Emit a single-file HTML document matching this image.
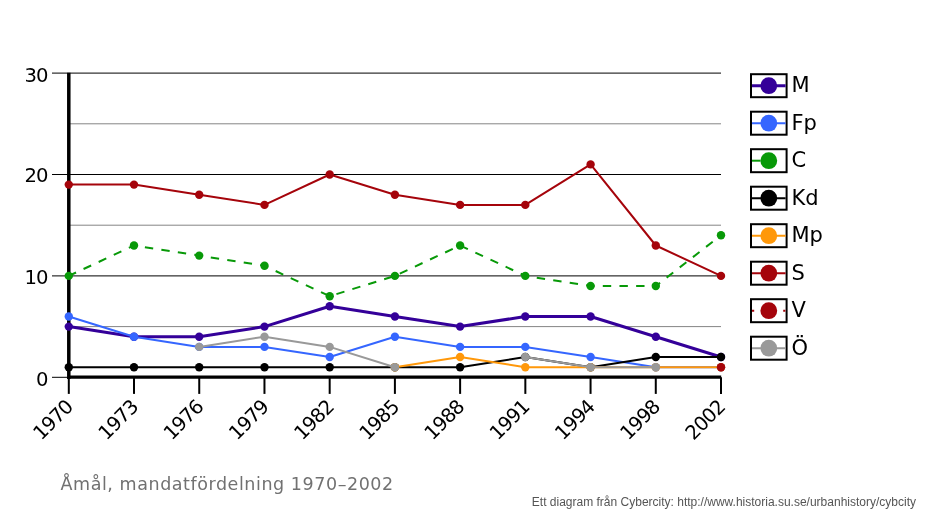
<!DOCTYPE html>
<html lang="sv"><head><meta charset="utf-8"><title>Åmål, mandatfördelning 1970–2002</title>
<style>html,body{margin:0;padding:0;background:#fff}body{width:934px;height:521px;overflow:hidden}svg{display:block}.ax{font-family:"DejaVu Sans", "Liberation Sans", sans-serif;font-size:19.6px;letter-spacing:-0.9px;fill:#000}.lg{font-family:"DejaVu Sans", "Liberation Sans", sans-serif;font-size:21px;fill:#000}.ti{font-family:"DejaVu Sans", "Liberation Sans", sans-serif;font-size:17.5px;letter-spacing:0.56px;fill:#717171}.ft{font-family:"Liberation Sans",Arial,sans-serif;font-size:12px;fill:#555}</style></head><body>
<svg width="934" height="521" viewBox="0 0 934 521">
<rect width="934" height="521" fill="#fff"/>
<line x1="68.8" y1="326.60" x2="721.0" y2="326.60" stroke="#858585" stroke-width="1"/>
<line x1="68.8" y1="225.20" x2="721.0" y2="225.20" stroke="#858585" stroke-width="1"/>
<line x1="68.8" y1="123.80" x2="721.0" y2="123.80" stroke="#858585" stroke-width="1"/>
<line x1="52.0" y1="275.90" x2="721.0" y2="275.90" stroke="#000" stroke-width="1"/>
<line x1="52.0" y1="174.50" x2="721.0" y2="174.50" stroke="#000" stroke-width="1"/>
<line x1="52.0" y1="73.10" x2="721.0" y2="73.10" stroke="#000" stroke-width="1"/>
<line x1="52" y1="377.30" x2="68.8" y2="377.30" stroke="#000" stroke-width="1"/>
<text class="ax" x="47.6" y="386.0" text-anchor="end">0</text>
<text class="ax" x="47.6" y="284.0" text-anchor="end">10</text>
<text class="ax" x="47.6" y="182.0" text-anchor="end">20</text>
<text class="ax" x="47.6" y="82.0" text-anchor="end">30</text>
<line x1="68.80" y1="72.7" x2="68.80" y2="379.0" stroke="#000" stroke-width="3.5"/>
<line x1="68.80" y1="377.10" x2="721.20" y2="377.10" stroke="#000" stroke-width="3.4"/>
<line x1="68.80" y1="377.3" x2="68.80" y2="393.9" stroke="#000" stroke-width="2"/>
<text class="ax" text-anchor="end" transform="translate(74.0,408.2) rotate(-45)">1970</text>
<line x1="134.02" y1="377.3" x2="134.02" y2="393.9" stroke="#000" stroke-width="2"/>
<text class="ax" text-anchor="end" transform="translate(139.2,408.2) rotate(-45)">1973</text>
<line x1="199.24" y1="377.3" x2="199.24" y2="393.9" stroke="#000" stroke-width="2"/>
<text class="ax" text-anchor="end" transform="translate(204.4,408.2) rotate(-45)">1976</text>
<line x1="264.46" y1="377.3" x2="264.46" y2="393.9" stroke="#000" stroke-width="2"/>
<text class="ax" text-anchor="end" transform="translate(269.7,408.2) rotate(-45)">1979</text>
<line x1="329.68" y1="377.3" x2="329.68" y2="393.9" stroke="#000" stroke-width="2"/>
<text class="ax" text-anchor="end" transform="translate(334.9,408.2) rotate(-45)">1982</text>
<line x1="394.90" y1="377.3" x2="394.90" y2="393.9" stroke="#000" stroke-width="2"/>
<text class="ax" text-anchor="end" transform="translate(400.1,408.2) rotate(-45)">1985</text>
<line x1="460.12" y1="377.3" x2="460.12" y2="393.9" stroke="#000" stroke-width="2"/>
<text class="ax" text-anchor="end" transform="translate(465.3,408.2) rotate(-45)">1988</text>
<line x1="525.34" y1="377.3" x2="525.34" y2="393.9" stroke="#000" stroke-width="2"/>
<text class="ax" text-anchor="end" transform="translate(530.5,408.2) rotate(-45)">1991</text>
<line x1="590.56" y1="377.3" x2="590.56" y2="393.9" stroke="#000" stroke-width="2"/>
<text class="ax" text-anchor="end" transform="translate(595.8,408.2) rotate(-45)">1994</text>
<line x1="655.78" y1="377.3" x2="655.78" y2="393.9" stroke="#000" stroke-width="2"/>
<text class="ax" text-anchor="end" transform="translate(661.0,408.2) rotate(-45)">1998</text>
<line x1="721.00" y1="377.3" x2="721.00" y2="393.9" stroke="#000" stroke-width="2"/>
<text class="ax" text-anchor="end" transform="translate(726.2,408.2) rotate(-45)">2002</text>
<polyline fill="none" stroke="#340099" stroke-width="3" stroke-linejoin="round" points="68.8,326.6 134.0,336.7 199.2,336.7 264.5,326.6 329.7,306.3 394.9,316.5 460.1,326.6 525.3,316.5 590.6,316.5 655.8,336.7 721.0,357.0"/>
<circle cx="68.8" cy="326.6" r="4.2" fill="#340099"/>
<circle cx="134.0" cy="336.7" r="4.2" fill="#340099"/>
<circle cx="199.2" cy="336.7" r="4.2" fill="#340099"/>
<circle cx="264.5" cy="326.6" r="4.2" fill="#340099"/>
<circle cx="329.7" cy="306.3" r="4.2" fill="#340099"/>
<circle cx="394.9" cy="316.5" r="4.2" fill="#340099"/>
<circle cx="460.1" cy="326.6" r="4.2" fill="#340099"/>
<circle cx="525.3" cy="316.5" r="4.2" fill="#340099"/>
<circle cx="590.6" cy="316.5" r="4.2" fill="#340099"/>
<circle cx="655.8" cy="336.7" r="4.2" fill="#340099"/>
<circle cx="721.0" cy="357.0" r="4.2" fill="#340099"/>
<polyline fill="none" stroke="#3566ff" stroke-width="2" stroke-linejoin="round" points="68.8,316.5 134.0,336.7 199.2,346.9 264.5,346.9 329.7,357.0 394.9,336.7 460.1,346.9 525.3,346.9 590.6,357.0 655.8,367.2 721.0,367.2"/>
<circle cx="68.8" cy="316.5" r="4.2" fill="#3566ff"/>
<circle cx="134.0" cy="336.7" r="4.2" fill="#3566ff"/>
<circle cx="199.2" cy="346.9" r="4.2" fill="#3566ff"/>
<circle cx="264.5" cy="346.9" r="4.2" fill="#3566ff"/>
<circle cx="329.7" cy="357.0" r="4.2" fill="#3566ff"/>
<circle cx="394.9" cy="336.7" r="4.2" fill="#3566ff"/>
<circle cx="460.1" cy="346.9" r="4.2" fill="#3566ff"/>
<circle cx="525.3" cy="346.9" r="4.2" fill="#3566ff"/>
<circle cx="590.6" cy="357.0" r="4.2" fill="#3566ff"/>
<circle cx="655.8" cy="367.2" r="4.2" fill="#3566ff"/>
<circle cx="721.0" cy="367.2" r="4.2" fill="#3566ff"/>
<polyline fill="none" stroke="#089908" stroke-width="2" stroke-linejoin="round" stroke-dasharray="8.4 8.27" stroke-dashoffset="0.4" points="68.8,275.9 134.0,245.5 199.2,255.6 264.5,265.8 329.7,296.2 394.9,275.9 460.1,245.5 525.3,275.9 590.6,286.0 655.8,286.0 721.0,235.3"/>
<circle cx="68.8" cy="275.9" r="4.2" fill="#089908"/>
<circle cx="134.0" cy="245.5" r="4.2" fill="#089908"/>
<circle cx="199.2" cy="255.6" r="4.2" fill="#089908"/>
<circle cx="264.5" cy="265.8" r="4.2" fill="#089908"/>
<circle cx="329.7" cy="296.2" r="4.2" fill="#089908"/>
<circle cx="394.9" cy="275.9" r="4.2" fill="#089908"/>
<circle cx="460.1" cy="245.5" r="4.2" fill="#089908"/>
<circle cx="525.3" cy="275.9" r="4.2" fill="#089908"/>
<circle cx="590.6" cy="286.0" r="4.2" fill="#089908"/>
<circle cx="655.8" cy="286.0" r="4.2" fill="#089908"/>
<circle cx="721.0" cy="235.3" r="4.2" fill="#089908"/>
<polyline fill="none" stroke="#000000" stroke-width="2" stroke-linejoin="round" points="68.8,367.2 134.0,367.2 199.2,367.2 264.5,367.2 329.7,367.2 394.9,367.2 460.1,367.2 525.3,357.0 590.6,367.2 655.8,357.0 721.0,357.0"/>
<circle cx="68.8" cy="367.2" r="4.2" fill="#000000"/>
<circle cx="134.0" cy="367.2" r="4.2" fill="#000000"/>
<circle cx="199.2" cy="367.2" r="4.2" fill="#000000"/>
<circle cx="264.5" cy="367.2" r="4.2" fill="#000000"/>
<circle cx="329.7" cy="367.2" r="4.2" fill="#000000"/>
<circle cx="394.9" cy="367.2" r="4.2" fill="#000000"/>
<circle cx="460.1" cy="367.2" r="4.2" fill="#000000"/>
<circle cx="525.3" cy="357.0" r="4.2" fill="#000000"/>
<circle cx="590.6" cy="367.2" r="4.2" fill="#000000"/>
<circle cx="655.8" cy="357.0" r="4.2" fill="#000000"/>
<circle cx="721.0" cy="357.0" r="4.2" fill="#000000"/>
<polyline fill="none" stroke="#ff980a" stroke-width="2" stroke-linejoin="round" points="394.9,367.2 460.1,357.0 525.3,367.2 590.6,367.2 655.8,367.2 721.0,367.2"/>
<circle cx="394.9" cy="367.2" r="4.2" fill="#ff980a"/>
<circle cx="460.1" cy="357.0" r="4.2" fill="#ff980a"/>
<circle cx="525.3" cy="367.2" r="4.2" fill="#ff980a"/>
<circle cx="590.6" cy="367.2" r="4.2" fill="#ff980a"/>
<circle cx="655.8" cy="367.2" r="4.2" fill="#ff980a"/>
<circle cx="721.0" cy="367.2" r="4.2" fill="#ff980a"/>
<polyline fill="none" stroke="#a5040b" stroke-width="2" stroke-linejoin="round" points="68.8,184.6 134.0,184.6 199.2,194.8 264.5,204.9 329.7,174.5 394.9,194.8 460.1,204.9 525.3,204.9 590.6,164.4 655.8,245.5 721.0,275.9"/>
<circle cx="68.8" cy="184.6" r="4.2" fill="#a5040b"/>
<circle cx="134.0" cy="184.6" r="4.2" fill="#a5040b"/>
<circle cx="199.2" cy="194.8" r="4.2" fill="#a5040b"/>
<circle cx="264.5" cy="204.9" r="4.2" fill="#a5040b"/>
<circle cx="329.7" cy="174.5" r="4.2" fill="#a5040b"/>
<circle cx="394.9" cy="194.8" r="4.2" fill="#a5040b"/>
<circle cx="460.1" cy="204.9" r="4.2" fill="#a5040b"/>
<circle cx="525.3" cy="204.9" r="4.2" fill="#a5040b"/>
<circle cx="590.6" cy="164.4" r="4.2" fill="#a5040b"/>
<circle cx="655.8" cy="245.5" r="4.2" fill="#a5040b"/>
<circle cx="721.0" cy="275.9" r="4.2" fill="#a5040b"/>
<circle cx="721.0" cy="367.2" r="4.2" fill="#a5040b"/>
<polyline fill="none" stroke="#999999" stroke-width="2" stroke-linejoin="round" points="199.2,346.9 264.5,336.7 329.7,346.9 394.9,367.2"/>
<polyline fill="none" stroke="#999999" stroke-width="2" stroke-linejoin="round" points="525.3,357.0 590.6,367.2 655.8,367.2"/>
<circle cx="199.2" cy="346.9" r="4.2" fill="#999999"/>
<circle cx="264.5" cy="336.7" r="4.2" fill="#999999"/>
<circle cx="329.7" cy="346.9" r="4.2" fill="#999999"/>
<circle cx="394.9" cy="367.2" r="4.2" fill="#999999"/>
<circle cx="525.3" cy="357.0" r="4.2" fill="#999999"/>
<circle cx="590.6" cy="367.2" r="4.2" fill="#999999"/>
<circle cx="655.8" cy="367.2" r="4.2" fill="#999999"/>
<rect x="751" y="74.2" width="35.6" height="23" fill="#fff" stroke="#000" stroke-width="2"/>
<line x1="752" y1="85.7" x2="785.6" y2="85.7" stroke="#340099" stroke-width="3"/>
<circle cx="768.8" cy="85.7" r="8.4" fill="#340099"/>
<text class="lg" x="791.4" y="92.2">M</text>
<rect x="751" y="111.7" width="35.6" height="23" fill="#fff" stroke="#000" stroke-width="2"/>
<line x1="752" y1="123.2" x2="785.6" y2="123.2" stroke="#3566ff" stroke-width="2"/>
<circle cx="768.8" cy="123.2" r="8.4" fill="#3566ff"/>
<text class="lg" x="791.4" y="129.7">Fp</text>
<rect x="751" y="149.2" width="35.6" height="23" fill="#fff" stroke="#000" stroke-width="2"/>
<line x1="752" y1="160.7" x2="785.6" y2="160.7" stroke="#089908" stroke-width="2" stroke-dasharray="8.5 40"/>
<circle cx="768.8" cy="160.7" r="8.4" fill="#089908"/>
<text class="lg" x="791.4" y="167.2">C</text>
<rect x="751" y="186.7" width="35.6" height="23" fill="#fff" stroke="#000" stroke-width="2"/>
<line x1="752" y1="198.2" x2="785.6" y2="198.2" stroke="#000000" stroke-width="2"/>
<circle cx="768.8" cy="198.2" r="8.4" fill="#000000"/>
<text class="lg" x="791.4" y="204.7">Kd</text>
<rect x="751" y="224.2" width="35.6" height="23" fill="#fff" stroke="#000" stroke-width="2"/>
<line x1="752" y1="235.7" x2="785.6" y2="235.7" stroke="#ff980a" stroke-width="2"/>
<circle cx="768.8" cy="235.7" r="8.4" fill="#ff980a"/>
<text class="lg" x="791.4" y="242.2">Mp</text>
<rect x="751" y="261.7" width="35.6" height="23" fill="#fff" stroke="#000" stroke-width="2"/>
<line x1="752" y1="273.2" x2="785.6" y2="273.2" stroke="#a5040b" stroke-width="2"/>
<circle cx="768.8" cy="273.2" r="8.4" fill="#a5040b"/>
<text class="lg" x="791.4" y="279.7">S</text>
<rect x="751" y="299.2" width="35.6" height="23" fill="#fff" stroke="#000" stroke-width="2"/>
<line x1="752" y1="310.7" x2="785.6" y2="310.7" stroke="#a5040b" stroke-width="2" stroke-dasharray="2.2 29"/>
<circle cx="768.8" cy="310.7" r="8.4" fill="#a5040b"/>
<text class="lg" x="791.4" y="317.2">V</text>
<rect x="751" y="336.7" width="35.6" height="23" fill="#fff" stroke="#000" stroke-width="2"/>
<line x1="752" y1="348.2" x2="785.6" y2="348.2" stroke="#999999" stroke-width="2"/>
<circle cx="768.8" cy="348.2" r="8.4" fill="#999999"/>
<text class="lg" x="791.4" y="354.7">Ö</text>
<text class="ti" x="60.5" y="490">Åmål, mandatfördelning 1970–2002</text>
<text class="ft" x="916" y="506.3" text-anchor="end">Ett diagram från Cybercity: http://www.historia.su.se/urbanhistory/cybcity</text>
</svg></body></html>
